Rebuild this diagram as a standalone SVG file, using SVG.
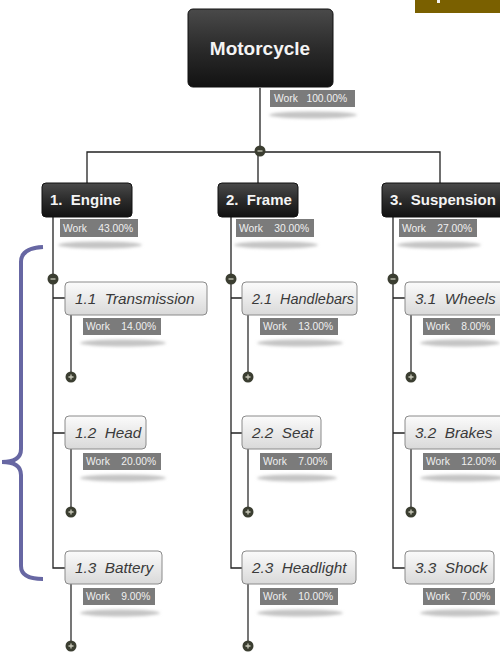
<svg xmlns="http://www.w3.org/2000/svg" width="500" height="654" viewBox="0 0 500 654">
  <defs>
    <linearGradient id="dark" x1="0" y1="0" x2="0" y2="1">
      <stop offset="0" stop-color="#4a4a4a"/>
      <stop offset="0.5" stop-color="#2b2b2b"/>
      <stop offset="1" stop-color="#121212"/>
    </linearGradient>
    <linearGradient id="light" x1="0" y1="0" x2="0" y2="1">
      <stop offset="0" stop-color="#fbfbfb"/>
      <stop offset="1" stop-color="#d9d9d9"/>
    </linearGradient>
    <filter id="soft" x="-20%" y="-100%" width="140%" height="300%">
      <feGaussianBlur stdDeviation="1.6"/>
    </filter>
    <g id="plus">
      <circle r="5.5" fill="#3b3e31"/>
      <path d="M-2.5,0H2.5M0,-2.5V2.5" stroke="#c8c8b8" stroke-width="1.3"/>
    </g>
    <g id="minus">
      <circle r="5.5" fill="#3b3e31"/>
      <path d="M-2.5,0H2.5" stroke="#c8c8b8" stroke-width="1.3"/>
    </g>
  </defs>
  <style>
    .root { fill: url(#dark); stroke: #111; stroke-width: 1; }
    .top { fill: url(#dark); stroke: #111; stroke-width: 1; }
    .task { fill: url(#light); stroke: #8a8a8a; stroke-width: 1; }
    .tag { fill: #7b7b7b; }
    .shade { fill: #c4c4c4; filter: url(#soft); }
    .link { fill: none; stroke: #222; stroke-width: 1.3; }
    .stem { fill: none; stroke: #555; stroke-width: 1.6; }
    .tRoot { font-family: "Liberation Sans", Arial, sans-serif; font-size: 19px; font-weight: bold; fill: #f4f4f4; text-anchor: middle; }
    .tTop { font-family: "Liberation Sans", Arial, sans-serif; font-size: 15px; font-weight: bold; fill: #f4f4f4; }
    .tTask { font-family: "Liberation Sans", Arial, sans-serif; font-size: 15.3px; font-style: italic; fill: #3a3a3a; }
    .tTag { font-family: "Liberation Sans", Arial, sans-serif; font-size: 10.3px; fill: #f0f0f0; }
  </style>

  <!-- corner badge -->
  <rect x="415" y="0" width="85" height="13" fill="#7a6000"/>
  <rect x="437" y="0" width="3" height="3" fill="#f2f2f2"/>

  <!-- grouping brace -->
  <path d="M43,247 Q21,248 21,262 L21,449 Q21,462 2,462 Q21,462 21,475 L21,566 Q21,579 43,579" fill="none" stroke="#6767a3" stroke-width="4"/>

  <!-- connectors -->
  <g id="connectors">
    <path class="link" d="M260,88 V152 M87,183 V152 H440 V183 M258,152 V183"/>
    <path class="link" d="M53,217 V568 H65 M53,298 H65 M53,433 H65"/>
    <path class="link" d="M231,217 V568 H242 M231,298 H242 M231,433 H242"/>
    <path class="link" d="M393,217 V568 H405 M393,298 H405 M393,433 H405"/>
    <path class="stem" d="M71,315 V377 M71,449 V512 M71,584 V646"/>
    <path class="stem" d="M248,315 V377 M248,449 V512 M248,584 V646"/>
    <path class="stem" d="M411,315 V377 M411,449 V512"/>
    <use href="#minus" x="260" y="151"/>
    <use href="#minus" x="53" y="279"/>
    <use href="#minus" x="231" y="279"/>
    <use href="#minus" x="393" y="279"/>
    <use href="#plus" x="71" y="377"/>
    <use href="#plus" x="71" y="512"/>
    <use href="#plus" x="71" y="646"/>
    <use href="#plus" x="248" y="377"/>
    <use href="#plus" x="248" y="512"/>
    <use href="#plus" x="248" y="646"/>
    <use href="#plus" x="411" y="377"/>
    <use href="#plus" x="411" y="512"/>
  </g>

  <!-- root -->
  <g id="motorcycle">
    <rect class="root" x="188" y="9" width="145" height="78" rx="5"/>
    <text class="tRoot" x="260" y="55">Motorcycle</text>
    <ellipse class="shade" cx="313" cy="115" rx="44" ry="3.5"/>
    <rect class="tag" x="270" y="90" width="85" height="17"/>
    <text class="tTag" x="274" y="102" xml:space="preserve">Work   100.00%</text>
  </g>

  <!-- level 1 -->
  <g id="engine">
    <rect class="top" x="42" y="183" width="90" height="34" rx="4"/>
    <text class="tTop" x="50" y="205" xml:space="preserve">1.  Engine</text>
    <ellipse class="shade" cx="100" cy="245" rx="42" ry="3.5"/>
    <rect class="tag" x="60" y="219" width="78" height="18"/>
    <text class="tTag" x="63" y="232" xml:space="preserve">Work    43.00%</text>
  </g>
  <g id="frame">
    <rect class="top" x="218" y="183" width="80" height="34" rx="4"/>
    <text class="tTop" x="226" y="205" xml:space="preserve">2.  Frame</text>
    <ellipse class="shade" cx="276" cy="245" rx="42" ry="3.5"/>
    <rect class="tag" x="236" y="219" width="78" height="18"/>
    <text class="tTag" x="239" y="232" xml:space="preserve">Work    30.00%</text>
  </g>
  <g id="suspension">
    <rect class="top" x="382" y="183" width="126" height="34" rx="4"/>
    <text class="tTop" x="390" y="205" xml:space="preserve">3.  Suspension</text>
    <ellipse class="shade" cx="439" cy="245" rx="42" ry="3.5"/>
    <rect class="tag" x="399" y="219" width="78" height="18"/>
    <text class="tTag" x="402" y="232" xml:space="preserve">Work    27.00%</text>
  </g>

  <!-- engine tasks -->
  <g id="transmission">
    <rect class="task" x="65" y="282" width="142" height="33" rx="4"/>
    <text class="tTask" x="75" y="304" xml:space="preserve">1.1  Transmission</text>
    <ellipse class="shade" cx="123" cy="343" rx="43" ry="3.5"/>
    <rect class="tag" x="83" y="318" width="78" height="17"/>
    <text class="tTag" x="86" y="330" xml:space="preserve">Work    14.00%</text>
  </g>
  <g id="head">
    <rect class="task" x="65" y="416" width="81" height="33" rx="4"/>
    <text class="tTask" x="75" y="438" xml:space="preserve">1.2  Head</text>
    <ellipse class="shade" cx="123" cy="478" rx="43" ry="3.5"/>
    <rect class="tag" x="83" y="453" width="78" height="17"/>
    <text class="tTag" x="86" y="465" xml:space="preserve">Work    20.00%</text>
  </g>
  <g id="battery">
    <rect class="task" x="65" y="551" width="97" height="33" rx="4"/>
    <text class="tTask" x="75" y="573" xml:space="preserve">1.3  Battery</text>
    <ellipse class="shade" cx="120" cy="613" rx="40" ry="3.5"/>
    <rect class="tag" x="83" y="588" width="72" height="17"/>
    <text class="tTag" x="86" y="600" xml:space="preserve">Work    9.00%</text>
  </g>

  <!-- frame tasks -->
  <g id="handlebars">
    <rect class="task" x="242" y="282" width="115" height="33" rx="4"/>
    <text class="tTask" x="252" y="304" textLength="102" lengthAdjust="spacingAndGlyphs" xml:space="preserve">2.1  Handlebars</text>
    <ellipse class="shade" cx="300" cy="343" rx="43" ry="3.5"/>
    <rect class="tag" x="260" y="318" width="78" height="17"/>
    <text class="tTag" x="263" y="330" xml:space="preserve">Work    13.00%</text>
  </g>
  <g id="seat">
    <rect class="task" x="242" y="416" width="79" height="33" rx="4"/>
    <text class="tTask" x="252" y="438" xml:space="preserve">2.2  Seat</text>
    <ellipse class="shade" cx="297" cy="478" rx="40" ry="3.5"/>
    <rect class="tag" x="260" y="453" width="72" height="17"/>
    <text class="tTag" x="263" y="465" xml:space="preserve">Work    7.00%</text>
  </g>
  <g id="headlight">
    <rect class="task" x="242" y="551" width="114" height="33" rx="4"/>
    <text class="tTask" x="252" y="573" xml:space="preserve">2.3  Headlight</text>
    <ellipse class="shade" cx="300" cy="613" rx="43" ry="3.5"/>
    <rect class="tag" x="260" y="588" width="78" height="17"/>
    <text class="tTag" x="263" y="600" xml:space="preserve">Work    10.00%</text>
  </g>

  <!-- suspension tasks -->
  <g id="wheels">
    <rect class="task" x="405" y="282" width="105" height="33" rx="4"/>
    <text class="tTask" x="415" y="304" xml:space="preserve">3.1  Wheels</text>
    <ellipse class="shade" cx="460" cy="343" rx="40" ry="3.5"/>
    <rect class="tag" x="423" y="318" width="72" height="17"/>
    <text class="tTag" x="426" y="330" xml:space="preserve">Work    8.00%</text>
  </g>
  <g id="brakes">
    <rect class="task" x="405" y="416" width="105" height="33" rx="4"/>
    <text class="tTask" x="415" y="438" xml:space="preserve">3.2  Brakes</text>
    <ellipse class="shade" cx="463" cy="478" rx="43" ry="3.5"/>
    <rect class="tag" x="423" y="453" width="78" height="17"/>
    <text class="tTag" x="426" y="465" xml:space="preserve">Work    12.00%</text>
  </g>
  <g id="shock">
    <rect class="task" x="405" y="551" width="89" height="33" rx="4"/>
    <text class="tTask" x="415" y="573" xml:space="preserve">3.3  Shock</text>
    <ellipse class="shade" cx="460" cy="613" rx="40" ry="3.5"/>
    <rect class="tag" x="423" y="588" width="72" height="17"/>
    <text class="tTag" x="426" y="600" xml:space="preserve">Work    7.00%</text>
  </g>
</svg>
